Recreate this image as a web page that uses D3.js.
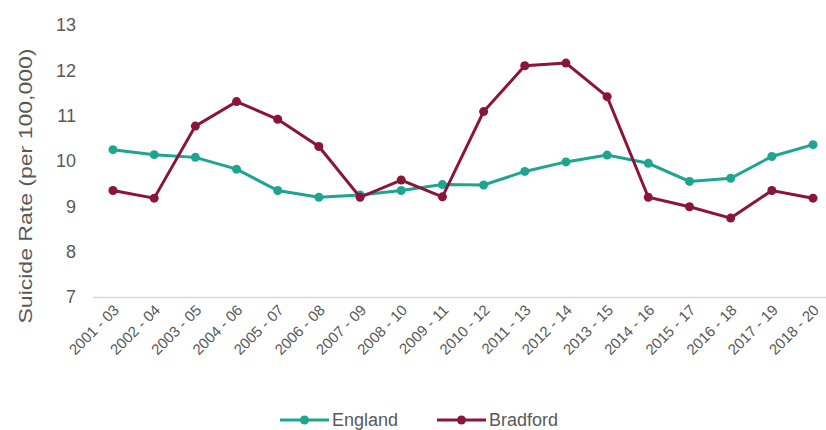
<!DOCTYPE html>
<html lang="en">

<head>
    <meta charset="UTF-8">
    <title>Suicide Rate - England vs Bradford</title>
    <style>
        body {
            margin: 0;
            background: #fff;
        }

        text {
            font-family: "Liberation Sans", Arial, sans-serif;
            fill: #595959;
        }

        .line {
            fill: none;
            stroke-width: 3;
        }
    </style>
</head>

<body>
    <script src="https://d3js.org/d3.v7.min.js"></script>
    <script>
        // Data
        const periods = ['2001 - 03', '2002 - 04', '2003 - 05', '2004 - 06', '2005 - 07', '2006 - 08',
            '2007 - 09', '2008 - 10', '2009 - 11', '2010 - 12', '2011 - 13', '2012 - 14',
            '2013 - 15', '2014 - 16', '2015 - 17', '2016 - 18', '2017 - 19', '2018 - 20'];
        const england = [10.25, 10.14, 10.08, 9.82, 9.35, 9.2, 9.25, 9.35, 9.48, 9.47,
            9.77, 9.98, 10.13, 9.95, 9.55, 9.62, 10.1, 10.36];
        const bradford = [9.35, 9.18, 10.77, 11.31, 10.92, 10.32, 9.2, 9.58, 9.21, 11.09,
            12.1, 12.16, 11.42, 9.2, 8.99, 8.74, 9.35, 9.18];
        const yTicks = [7, 8, 9, 10, 11, 12, 13];

        const series = [
            { name: 'England', color: '#1ea592', values: england },
            { name: 'Bradford', color: '#8a1538', values: bradford }
        ];

        const width = 826;
        const height = 430;

        const svg = d3.select('body')
            .append('svg')
            .attr('width', width)
            .attr('height', height);

        // Scales
        const xScale = d3.scaleBand()
            .domain(periods)
            .range([92.4, 833.6])
            .padding(0);
        const cx = (p) => xScale(p) + xScale.bandwidth() / 2;

        const yScale = d3.scaleLinear()
            .domain([7, 13])
            .range([297, 25]);

        // X axis
        const xAxis = svg.append('g')
            .attr('transform', `translate(0,${yScale(7)})`)
            .call(d3.axisBottom(xScale).tickSize(0).tickSizeOuter(0));
        xAxis.select('.domain').attr('stroke', '#d9d9d9').attr('stroke-width', 1.5);
        xAxis.selectAll('text')
            .attr('font-size', 15)
            .attr('fill', '#595959')
            .attr('text-anchor', 'end')
            .attr('dy', null)
            .attr('y', 0)
            .attr('transform', 'translate(7,14) rotate(-45)');

        // Y axis
        const yAxis = svg.append('g')
            .attr('transform', 'translate(76,0)')
            .call(d3.axisLeft(yScale).tickValues(yTicks).tickFormat(d3.format('d'))
                .tickSize(0).tickPadding(0));
        yAxis.select('.domain').remove();
        yAxis.selectAll('text')
            .attr('font-size', 18)
            .attr('fill', '#595959');

        // Y label
        svg.append('text')
            .attr('transform', 'translate(25,186) rotate(-90)')
            .attr('text-anchor', 'middle')
            .attr('dy', '0.35em')
            .attr('font-size', 19)
            .attr('textLength', 275)
            .attr('lengthAdjust', 'spacingAndGlyphs')
            .text('Suicide Rate (per 100,000)');

        // Lines and dots
        const line = d3.line()
            .x((d, i) => cx(periods[i]))
            .y((d) => yScale(d));

        series.forEach((s) => {
            svg.append('path')
                .datum(s.values)
                .attr('class', 'line')
                .attr('stroke', s.color)
                .attr('d', line);

            svg.selectAll(null)
                .data(s.values)
                .enter()
                .append('circle')
                .attr('cx', (d, i) => cx(periods[i]))
                .attr('cy', (d) => yScale(d))
                .attr('r', 4.5)
                .attr('fill', s.color);
        });

        // Legend
        const legendX = [280, 437];
        const legend = svg.selectAll('.legend')
            .data(series)
            .enter()
            .append('g')
            .attr('class', 'legend')
            .attr('transform', (d, i) => `translate(${legendX[i]},420)`);

        legend.append('line')
            .attr('x1', 0)
            .attr('x2', 49)
            .attr('stroke', (d) => d.color)
            .attr('stroke-width', 3);
        legend.append('circle')
            .attr('cx', 24.5)
            .attr('r', 4.5)
            .attr('fill', (d) => d.color);
        legend.append('text')
            .attr('x', 52)
            .attr('y', 6)
            .attr('font-size', 18)
            .text((d) => d.name);
    </script>
</body>

</html>
